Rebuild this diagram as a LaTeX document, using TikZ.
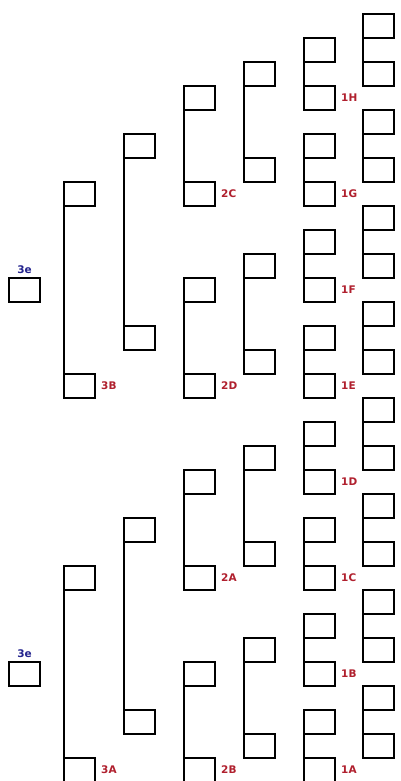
\documentclass[tikz,border=0pt]{standalone}
\usepackage{fontspec}
\newfontfamily\labfont{DejaVu Sans}
\usetikzlibrary{positioning}
\definecolor{seedRed}{HTML}{B0202E}
\definecolor{seedBlue}{HTML}{23238E}

\begin{document}
\begin{tikzpicture}[x=1pt, y=-1pt,
    slot/.style={draw, line width=2.7pt, minimum width=31pt, minimum height=24pt, inner sep=0pt, outer sep=0pt},
    tag/.style={font=\labfont\bfseries\fontsize{10.5}{11}\selectfont, inner sep=0pt}]
  \useasboundingbox (0,0) rectangle (401,781);
  % column / left edge / top row / bottom row / period / last bracket
  \foreach \col/\xl/\rt/\rb/\per/\num in {6/363/0/2/4/7, 5/304/1/3/4/7, 4/244/2/6/8/3, 3/184/3/7/8/3, 2/124/5/13/16/1, 1/64/7/15/16/1} {
    \foreach \k in {0,...,\num} {
      \node[slot, anchor=north west] (c\col-\k-t) at (\xl, 14+24*\rt+24*\per*\k) {};
      \node[slot, anchor=north west] (c\col-\k-b) at (\xl, 14+24*\rb+24*\per*\k) {};
      \draw[line width=2.7pt] (c\col-\k-t.south west) -- (c\col-\k-b.north west);
    }
  }
  \foreach \k/\s in {0/H, 1/G, 2/F, 3/E, 4/D, 5/C, 6/B, 7/A}
    \node[tag, text=seedRed, right=6pt of c5-\k-b] (lab1\s) {1\s};
  \foreach \k/\s in {0/C, 1/D, 2/A, 3/B}
    \node[tag, text=seedRed, right=6pt of c3-\k-b] (lab2\s) {2\s};
  \foreach \k/\s in {0/B, 1/A}
    \node[tag, text=seedRed, right=6pt of c1-\k-b] (lab3\s) {3\s};
  % loose seeds
  \foreach \k in {0,1} {
    \node[slot, anchor=north west] (c0-\k) at (9, 278+384*\k) {};
    \node[tag, text=seedBlue, above=4pt of c0-\k] (seed\k) {3e};
  }
\end{tikzpicture}
\end{document}
